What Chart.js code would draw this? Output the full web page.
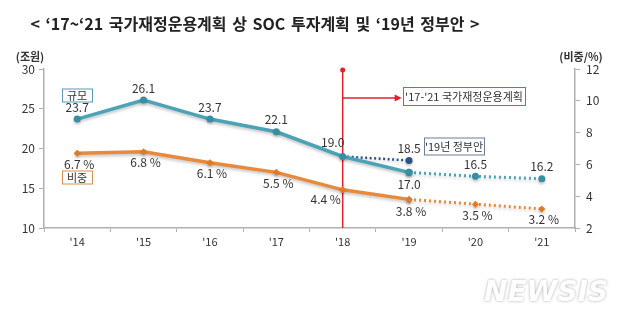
<!DOCTYPE html>
<html>
<head>
<meta charset="utf-8">
<script src="https://cdn.jsdelivr.net/npm/chart.js@4.4.1/dist/chart.umd.min.js"></script>
<style>
  body { margin: 0; background: #fff; }
  #wrap { position: relative; width: 639px; height: 323px; }
  #title {
    position: absolute; left: 0; top: 11px; width: 510px; text-align: center;
    font-family: "Noto Sans CJK KR", sans-serif; font-weight: bold; font-size: 16px; color: #222;
    word-spacing: 2px;
  }
  #mark {
    position: absolute; left: 484px; top: 275px;
    font-family: "DejaVu Sans", sans-serif; font-style: italic; font-weight: bold; font-size: 28px;
    color: #fff; letter-spacing: 0px;
    text-shadow: 0 0 3px rgba(0,0,0,0.35);
  }
</style>
</head>
<body>
<div id="wrap">
  <canvas id="chart" width="639" height="323"></canvas>
  <div id="title">&lt; ‘17~‘21 국가재정운용계획 상 SOC 투자계획 및 ‘19년 정부안 &gt;</div>
  <div id="mark">NEWSIS</div>
</div>
<script>
// Data
const years = ["'14", "'15", "'16", "'17", "'18", "'19", "'20", "'21"];
const scaleValues = [23.7, 26.1, 23.7, 22.1, 19.0, 17.0, 16.5, 16.2]; // 규모 (조원)
const shareValues = [6.7, 6.8, 6.1, 5.5, 4.4, 3.8, 3.5, 3.2];        // 비중 (%)
const govYear = 5;          // '19
const govValue = 18.5;      // '19년 정부안
const planStart = 4;        // '18 (red line)
const lastActual = 5;       // solid up to '19, dotted afterwards

const blue = '#4aa3b6';
const bluePoint = '#3a8ea3';
const navy = '#2a5485';
const orange = '#e8893c';
const orangePoint = '#e07a26';

// split a series into solid / dotted parts
function solidPart(values) {
    return values.map((v, i) => i <= lastActual ? v : null);
}
function dottedPart(values) {
    return values.map((v, i) => i >= lastActual ? v : null);
}
const govLine = years.map((_, i) => i === planStart ? scaleValues[planStart] : (i === govYear ? govValue : null));

// label offsets (dx, dy) for each point
const scaleLabelPos = [[0, -12], [0, -12], [0, -12], [0, -12], [-10, -14], [0, 12], [0, -12], [0, -12]];
const shareLabelPos = [[2, 11], [2, 11], [2, 11], [2, 11], [-17, 10], [2, 12], [2, 11], [2, 11]];

const labelFont = '12px "Noto Sans CJK KR", sans-serif';

const decorPlugin = {
    id: 'decor',
    beforeDatasetDraw(chart, args) {
        const ctx = chart.ctx;
        ctx.save();
        ctx.shadowColor = 'rgba(0,0,0,0.22)';
        ctx.shadowBlur = 3;
        ctx.shadowOffsetY = 2;
    },
    afterDatasetDraw(chart) {
        chart.ctx.restore();
    },
    beforeDatasetsDraw(chart) {
        // red vertical line at '18
        const ctx = chart.ctx;
        const x = chart.scales.x.getPixelForValue(planStart);
        const top = chart.chartArea.top + 1;
        const bottom = chart.chartArea.bottom;
        ctx.save();
        ctx.strokeStyle = '#e0202a';
        ctx.fillStyle = '#e0202a';
        ctx.lineWidth = 1.5;
        ctx.beginPath();
        ctx.moveTo(x, top);
        ctx.lineTo(x, bottom);
        ctx.stroke();
        ctx.beginPath();
        ctx.arc(x, top, 2.5, 0, Math.PI * 2);
        ctx.fill();
        // arrow to plan box
        const ay = top + 28;
        ctx.beginPath();
        ctx.moveTo(x, ay);
        ctx.lineTo(x + 54, ay);
        ctx.stroke();
        ctx.beginPath();
        ctx.moveTo(x + 59, ay);
        ctx.lineTo(x + 52, ay - 3.5);
        ctx.lineTo(x + 52, ay + 3.5);
        ctx.closePath();
        ctx.fill();
        ctx.restore();
    },
    afterDraw(chart) {
        const ctx = chart.ctx;
        const xs = chart.scales.x;
        const ys = chart.scales.y;
        const y1 = chart.scales.y1;
        const area = chart.chartArea;
        ctx.save();
        ctx.font = labelFont;
        ctx.fillStyle = '#333';
        ctx.textAlign = 'center';
        ctx.textBaseline = 'middle';
        scaleValues.forEach((v, i) => {
            const p = scaleLabelPos[i];
            ctx.fillText(v.toFixed(1), xs.getPixelForValue(i) + p[0], ys.getPixelForValue(v) + p[1]);
        });
        ctx.fillText(govValue.toFixed(1), xs.getPixelForValue(govYear), ys.getPixelForValue(govValue) - 12);
        shareValues.forEach((v, i) => {
            const p = shareLabelPos[i];
            ctx.fillText(v.toFixed(1) + ' %', xs.getPixelForValue(i) + p[0], y1.getPixelForValue(v) + p[1]);
        });

        // axis titles
        ctx.font = 'bold 11px "Noto Sans CJK KR", sans-serif';
        ctx.fillStyle = '#333';
        ctx.textAlign = 'center';
        ctx.fillText('(조원)', 30, area.top - 12);
        ctx.fillText('(비중/%)', area.right + 6, area.top - 12);

        // boxed notes
        function box(text, cx, cy, w, h, stroke) {
            ctx.fillStyle = '#fff';
            ctx.fillRect(cx - w / 2, cy - h / 2, w, h);
            ctx.strokeStyle = stroke;
            ctx.lineWidth = 1;
            ctx.strokeRect(cx - w / 2 + 0.5, cy - h / 2 + 0.5, w, h);
            ctx.fillStyle = '#333';
            ctx.font = '11px "Noto Sans CJK KR", sans-serif';
            ctx.textAlign = 'center';
            ctx.fillText(text, cx, cy + 1);
        }
        box('규모', 77, 95, 30, 13, '#5a9bb0');
        box('비중', 77, 177, 30, 13, '#d9904f');
        box("'17-'21 국가재정운용계획", 464, 96, 122, 18, '#d94a52');
        box("'19년 정부안", 454, 146, 60, 17, '#6a7f95');
        ctx.restore();
    }
};

new Chart(document.getElementById('chart'), {
    type: 'line',
    data: {
        labels: years,
        datasets: [
            {
                data: solidPart(scaleValues), yAxisID: 'y',
                borderColor: blue, borderWidth: 3.5,
                pointBackgroundColor: bluePoint, pointBorderWidth: 0, pointRadius: 3.5
            },
            {
                data: dottedPart(scaleValues), yAxisID: 'y',
                borderColor: blue, borderWidth: 3, borderDash: [2, 3],
                pointBackgroundColor: bluePoint, pointBorderWidth: 0, pointRadius: 3.5
            },
            {
                data: govLine, yAxisID: 'y', spanGaps: true,
                borderColor: navy, borderWidth: 2.5, borderDash: [2, 2.5],
                pointBackgroundColor: navy, pointBorderWidth: 0,
                pointRadius: years.map((_, i) => i === govYear ? 3.5 : 0)
            },
            {
                data: solidPart(shareValues), yAxisID: 'y1',
                borderColor: orange, borderWidth: 3.5,
                pointStyle: 'rectRot',
                pointBackgroundColor: orangePoint, pointBorderWidth: 0, pointRadius: 3.5
            },
            {
                data: dottedPart(shareValues), yAxisID: 'y1',
                borderColor: orange, borderWidth: 3, borderDash: [2, 3],
                pointStyle: 'rectRot',
                pointBackgroundColor: orangePoint, pointBorderWidth: 0, pointRadius: 3.5
            }
        ]
    },
    options: {
        responsive: false,
        animation: false,
        layout: { padding: { top: 69, left: 0, right: 0, bottom: 0 } },
        plugins: {
            legend: { display: false },
            tooltip: { enabled: false }
        },
        scales: {
            x: {
                offset: true,
                border: { color: '#b0b0b0', width: 1.5 },
                grid: { offset: true, drawOnChartArea: false, tickLength: 4, color: '#b0b0b0' },
                ticks: {
                    color: '#333', padding: 3,
                    font: { family: '"Noto Sans CJK KR", sans-serif', size: 11 }
                },
                afterFit(scale) { scale.height = 95; }
            },
            y: {
                position: 'left', min: 10, max: 30,
                border: { color: '#b0b0b0', width: 1.5 },
                grid: { drawOnChartArea: false, tickLength: 5, color: '#b0b0b0' },
                ticks: {
                    stepSize: 5, color: '#333', padding: 4,
                    font: { family: '"Noto Sans CJK KR", sans-serif', size: 12 }
                },
                afterFit(scale) { scale.width = 44; }
            },
            y1: {
                position: 'right', min: 2, max: 12,
                border: { color: '#b0b0b0', width: 1.5 },
                grid: { drawOnChartArea: false, tickLength: 5, color: '#b0b0b0' },
                ticks: {
                    stepSize: 2, color: '#333', padding: 6,
                    font: { family: '"Noto Sans CJK KR", sans-serif', size: 12 }
                },
                afterFit(scale) { scale.width = 64; }
            }
        }
    },
    plugins: [decorPlugin]
});
</script>
</body>
</html>
